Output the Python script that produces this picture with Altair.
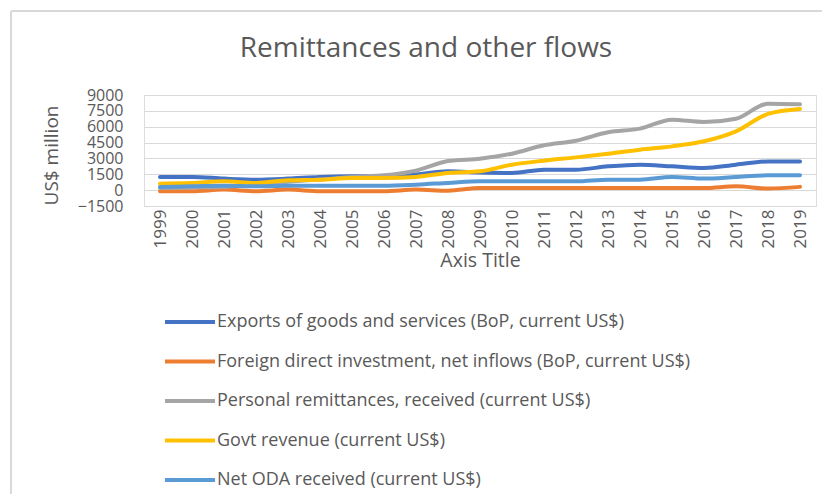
import altair as alt
import pandas as pd

years = [str(y) for y in range(1999, 2020)]

exports = [1250, 1250, 1090, 990, 1090, 1250, 1310, 1310, 1470, 1780, 1680,
           1630, 1940, 1940, 2250, 2410, 2250, 2100, 2410, 2720, 2720]
fdi = [-100, -100, 50, -100, 50, -100, -100, -100, 50, -50, 200,
       200, 200, 200, 200, 200, 200, 200, 360, 150, 310]
remit = [200, 250, 300, 550, 800, 1000, 1250, 1400, 1850, 2750, 2980,
         3450, 4240, 4680, 5470, 5820, 6670, 6450, 6760, 8180, 8120]
govt = [615, 680, 830, 680, 930, 990, 1150, 1150, 1250, 1630, 1780,
        2410, 2790, 3100, 3450, 3830, 4140, 4620, 5560, 7210, 7680]
oda = [300, 360, 420, 360, 420, 420, 420, 420, 520, 680, 830,
       830, 830, 830, 990, 990, 1250, 1090, 1250, 1400, 1400]

series_names = [
    "Exports of goods and services (BoP, current US$)",
    "Foreign direct investment, net inflows (BoP, current US$)",
    "Personal remittances, received (current US$)",
    "Govt revenue (current US$)",
    "Net ODA received (current US$)",
]
series_values = [exports, fdi, remit, govt, oda]
colors = ["#4472C4", "#ED7D31", "#A5A5A5", "#FFC000", "#5B9BD5"]
y_ticks = [-1500, 0, 1500, 3000, 4500, 6000, 7500, 9000]

rows = []
for i, (name, vals) in enumerate(zip(series_names, series_values)):
    for yr, v in zip(years, vals):
        rows.append({"Year": yr, "Value": v, "Series": name, "order": i})
df = pd.DataFrame(rows)

TXT = "#595959"
FONT = "Open Sans"

lines = alt.Chart(df).mark_line(strokeWidth=4, interpolate="monotone", strokeCap="round").encode(
    x=alt.X("Year:O", scale=alt.Scale(type="point", padding=0.5),
            axis=alt.Axis(title="Axis Title", labelAngle=-90, ticks=False, domain=False,
                          labelPadding=3, labelFontSize=17, labelColor=TXT, labelFont=FONT,
                          labelOverlap=False,
                          titleFont=FONT, titleFontSize=19.5, titleColor=TXT, titleFontWeight="normal",
                          titleX=336, titleY=60, titleBaseline="alphabetic", titleAlign="center")),
    y=alt.Y("Value:Q", scale=alt.Scale(domain=[-1500, 9000], nice=False, zero=False),
            axis=alt.Axis(title="US$ million", values=y_ticks, format="d", ticks=False, domain=False,
                          labelOverlap=False, labelFlush=False,
                          labelPadding=21, labelFontSize=16, labelColor=TXT, labelFont=FONT,
                          gridColor="#D9D9D9", gridWidth=1,
                          titleFont=FONT, titleFontSize=19, titleColor=TXT, titleFontWeight="normal",
                          titleAngle=270, titleX=-87, titleY=60, titleBaseline="alphabetic",
                          titleAlign="center")),
    color=alt.Color("Series:N", scale=alt.Scale(domain=series_names, range=colors),
                    legend=alt.Legend(title=None, orient="none", legendX=19, legendY=200,
                                      direction="vertical", symbolType="stroke",
                                      symbolSize=2500, symbolStrokeWidth=4,
                                      labelFontSize=18, labelFont=FONT, labelColor=TXT,
                                      labelLimit=0, rowPadding=3.5, labelOffset=0)),
    order=alt.Order("order:Q"),
)

border_left = alt.Chart(df).mark_rule(color="#D9D9D9", strokeWidth=1.5).encode(
    x=alt.value(-133), y=alt.value(-84), y2=alt.value(420))
border_top = alt.Chart(df).mark_rule(color="#D9D9D9", strokeWidth=1.5).encode(
    x=alt.value(-133), x2=alt.value(700), y=alt.value(-84))

chart = alt.layer(border_left, border_top, lines).properties(
    width=672, height=111,
    title=alt.TitleParams("Remittances and other flows", font=FONT, fontSize=28,
                          color=TXT, fontWeight="normal", anchor="middle", dx=-54,
                          baseline="alphabetic", offset=-75),
    autosize=alt.AutoSizeParams(type="none"),
    padding={"left": 136, "top": 87, "right": 6, "bottom": 288},
).configure_view(stroke=None).configure(background="white")

chart.save("out.html", embed_options={"renderer": "svg", "actions": False})
